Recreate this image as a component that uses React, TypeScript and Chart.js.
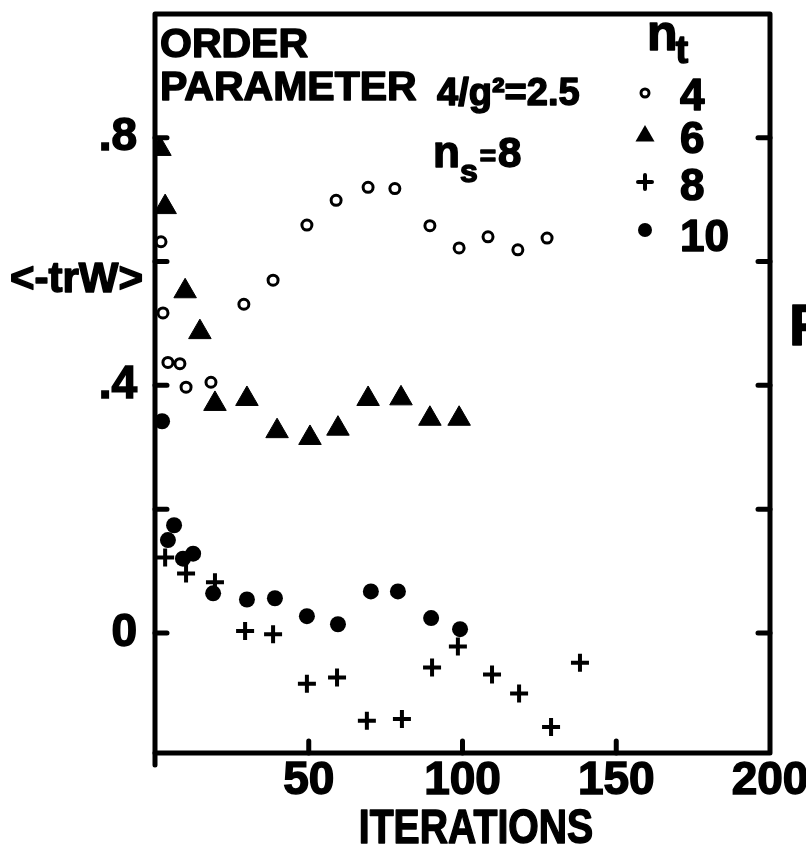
import React, { useEffect, useRef } from 'react';
import { Chart, registerables } from 'chart.js';

Chart.register(...registerables);

const FONT = '"Liberation Sans", Arial, Helvetica, sans-serif';

// n_t = 4 (open circles)
const nt4X = [1.95, 2.6, 4.2, 8.1, 10.1, 18.2, 28.9, 38.4, 49.4, 58.9, 69.3, 78.0, 89.4, 98.9, 108.3, 118.0, 127.5];
const nt4Y = [0.632, 0.517, 0.437, 0.435, 0.397, 0.405, 0.531, 0.570, 0.659, 0.699, 0.720, 0.718, 0.658, 0.622, 0.640, 0.619, 0.638];

// n_t = 6 (filled triangles)
const nt6X = [1.6, 3.3, 9.8, 14.6, 19.5, 29.9, 39.7, 50.4, 59.5, 69.3, 80.0, 89.4, 98.9];
const nt6Y = [0.782, 0.688, 0.552, 0.486, 0.370, 0.378, 0.326, 0.315, 0.330, 0.378, 0.379, 0.346, 0.346];

// n_t = 8 (crosses)
const nt8X = [3.3, 10.1, 19.5, 29.3, 38.4, 49.4, 59.2, 68.9, 80.3, 90.1, 98.5, 109.6, 118.4, 128.8, 138.2];
const nt8Y = [0.122, 0.096, 0.082, 0.003, -0.002, -0.082, -0.072, -0.142, -0.139, -0.056, -0.022, -0.067, -0.098, -0.152, -0.048];

// n_t = 10 (filled circles)
const nt10X = [2.3, 4.2, 6.2, 9.1, 12.4, 18.9, 29.9, 39.0, 49.4, 59.5, 70.2, 79.0, 89.8, 99.2];
const nt10Y = [0.342, 0.150, 0.174, 0.120, 0.128, 0.064, 0.054, 0.056, 0.027, 0.014, 0.067, 0.067, 0.024, 0.006];

const legendLabels = ['4', '6', '8', '10'];
const xTickLabels: Record<string, string> = { '50': '50', '100': '100', '150': '150', '200': '200' };
const yTickLabels: Record<string, string> = { '0': '0', '0.4': '.4', '0.8': '.8' };

const X_MIN = 0, X_MAX = 200, X_STEP = 50;
const Y_MIN = -0.194, Y_MAX = 1.0, Y_STEP = 0.2;

const pts = (xs: number[], ys: number[]) => xs.map((x, i) => ({ x, y: ys[i] }));

function drawMarker(ctx: CanvasRenderingContext2D, kind: string, x: number, y: number) {
  ctx.save();
  ctx.fillStyle = '#000';
  ctx.strokeStyle = '#000';
  if (kind === 'open') {
    ctx.lineWidth = 3;
    ctx.beginPath();
    ctx.arc(x, y, 4, 0, Math.PI * 2);
    ctx.fillStyle = '#fff';
    ctx.fill();
    ctx.stroke();
  } else if (kind === 'tri') {
    const r = 11;
    ctx.beginPath();
    ctx.moveTo(x, y - r);
    ctx.lineTo(x + r * Math.sin((2 * Math.PI) / 3), y - r * Math.cos((2 * Math.PI) / 3));
    ctx.lineTo(x + r * Math.sin((4 * Math.PI) / 3), y - r * Math.cos((4 * Math.PI) / 3));
    ctx.closePath();
    ctx.fill();
  } else if (kind === 'cross') {
    ctx.lineWidth = 4;
    ctx.beginPath();
    ctx.moveTo(x - 7, y);
    ctx.lineTo(x + 7, y);
    ctx.moveTo(x, y - 7);
    ctx.lineTo(x, y + 7);
    ctx.stroke();
  } else {
    ctx.beginPath();
    ctx.arc(x, y, 7, 0, Math.PI * 2);
    ctx.fill();
  }
  ctx.restore();
}

const annotPlugin = {
  id: 'annot',
  afterDraw(chart: any) {
    const { ctx, chartArea: a, scales } = chart;
    const xs = scales.x;
    const ys = scales.y;
    ctx.save();
    ctx.strokeStyle = '#000';
    ctx.fillStyle = '#000';
    ctx.lineWidth = 5;
    ctx.lineJoin = 'round';
    ctx.lineCap = 'round';
    ctx.strokeRect(a.left, a.top, a.right - a.left, a.bottom - a.top);

    const T = 12;
    ctx.beginPath();
    ys.ticks.forEach((t: any) => {
      const v = t.value;
      const k = Math.round(v / Y_STEP);
      if (Math.abs(v - k * Y_STEP) > 1e-6 || v <= ys.min + 1e-6 || v >= ys.max - 1e-6) return;
      const p = ys.getPixelForValue(v);
      ctx.moveTo(a.left, p);
      ctx.lineTo(a.left + T, p);
      ctx.moveTo(a.right, p);
      ctx.lineTo(a.right - T, p);
    });
    xs.ticks.forEach((t: any) => {
      const v = t.value;
      if (v <= xs.min || v >= xs.max) return;
      const p = xs.getPixelForValue(v);
      ctx.moveTo(p, a.bottom);
      ctx.lineTo(p, a.bottom - T);
    });
    ctx.moveTo(a.left, a.bottom);
    ctx.lineTo(a.left, a.bottom + 12);
    ctx.stroke();

    const txt = (s: string, x: number, y: number, size: number, align: CanvasTextAlign = 'left') => {
      ctx.font = `bold ${size}px ${FONT}`;
      ctx.textAlign = align;
      ctx.textBaseline = 'alphabetic';
      ctx.lineWidth = 1.5;
      ctx.lineJoin = 'round';
      ctx.strokeText(s, x, y);
      ctx.fillText(s, x, y);
      return ctx.measureText(s).width;
    };

    txt('ORDER', 160, 57, 41);
    txt('PARAMETER', 160, 100, 41);
    txt('4/g\u00B2=2.5', 437, 105, 38);

    // n_s = 8
    let cx = 433;
    cx += txt('n', cx, 167, 44);
    cx += txt('s', cx, 182, 32);
    cx += txt('=', cx + 2, 165, 28) + 4;
    txt('8', cx, 167, 42);

    // legend header n_t
    const nw = txt('n', 647, 50, 50);
    txt('t', 647 + nw - 2, 63, 38);

    const kinds = ['open', 'tri', 'cross', 'dot'];
    const markerY = [93, 136, 182, 230];
    const labelY = [110, 153, 200, 251];
    legendLabels.forEach((l, i) => {
      drawMarker(ctx, kinds[i], 645, markerY[i]);
      txt(l, 680, labelY[i], 44);
    });

    txt('<-trW>', 10, 292, 42);
    txt('F', 789, 345, 58);

    // x-axis title, condensed
    ctx.save();
    ctx.translate(476, 843);
    ctx.scale(0.8, 1);
    txt('ITERATIONS', 0, 0, 49, 'center');
    ctx.restore();

    ctx.restore();
  },
};

export default function App() {
  const ref = useRef<HTMLCanvasElement | null>(null);
  useEffect(() => {
    if (!ref.current) return;
    const tickFont = { family: FONT, weight: 'bold' as const, size: 46 };
    const chart = new Chart(ref.current, {
      type: 'scatter',
      data: {
        datasets: [
          {
            label: '4',
            data: pts(nt4X, nt4Y),
            pointStyle: 'circle',
            pointRadius: 5,
            pointBorderWidth: 3,
            pointBackgroundColor: '#fff',
            pointBorderColor: '#000',
          },
          {
            label: '6',
            data: pts(nt6X, nt6Y),
            pointStyle: 'triangle',
            pointRadius: 13,
            pointBorderWidth: 1,
            pointBackgroundColor: '#000',
            pointBorderColor: '#000',
          },
          {
            label: '8',
            data: pts(nt8X, nt8Y),
            pointStyle: 'cross',
            pointRadius: 9,
            pointBorderWidth: 4,
            pointBackgroundColor: '#000',
            pointBorderColor: '#000',
          },
          {
            label: '10',
            data: pts(nt10X, nt10Y),
            pointStyle: 'circle',
            pointRadius: 8,
            pointBorderWidth: 0,
            pointBackgroundColor: '#000',
            pointBorderColor: '#000',
          },
        ],
      },
      options: {
        animation: false,
        responsive: false,
        devicePixelRatio: 1,
        layout: { padding: { top: 10, right: 36, left: 0, bottom: 0 } },
        plugins: { legend: { display: false }, tooltip: { enabled: false } },
        scales: {
          x: {
            type: 'linear',
            position: 'bottom',
            min: X_MIN,
            max: X_MAX,
            grid: { display: false },
            border: { display: false },
            ticks: {
              stepSize: X_STEP,
              autoSkip: false,
              maxRotation: 0,
              padding: -7,
              color: '#000',
              textStrokeColor: '#000',
              textStrokeWidth: 1.5,
              font: tickFont,
              callback: (v: any) => xTickLabels[String(Math.round(Number(v)))] ?? '',
            },
            afterFit: (s: any) => {
              s.height = 113;
              s.paddingLeft = 0;
              s.paddingRight = 0;
            },
          },
          y: {
            type: 'linear',
            position: 'left',
            min: Y_MIN,
            max: Y_MAX,
            grid: { display: false },
            border: { display: false },
            ticks: {
              stepSize: Y_STEP,
              autoSkip: false,
              padding: 10,
              color: '#000',
              textStrokeColor: '#000',
              textStrokeWidth: 1.5,
              font: tickFont,
              callback: (v: any) => {
                const n = Number(v);
                const r = Math.round(n * 10) / 10;
                if (Math.abs(n - r) > 1e-6) return '';
                return yTickLabels[String(r)] ?? '';
              },
            },
            afterFit: (s: any) => {
              s.width = 155;
              s.paddingTop = 0;
              s.paddingBottom = 0;
            },
          },
        },
      },
      plugins: [annotPlugin],
    });
    return () => chart.destroy();
  }, []);

  return (
    <div style={{ position: 'absolute', left: 0, top: 0, width: 806, height: 866, background: '#fff' }}>
      <canvas ref={ref} width={806} height={866} style={{ display: 'block' }} />
    </div>
  );
}
